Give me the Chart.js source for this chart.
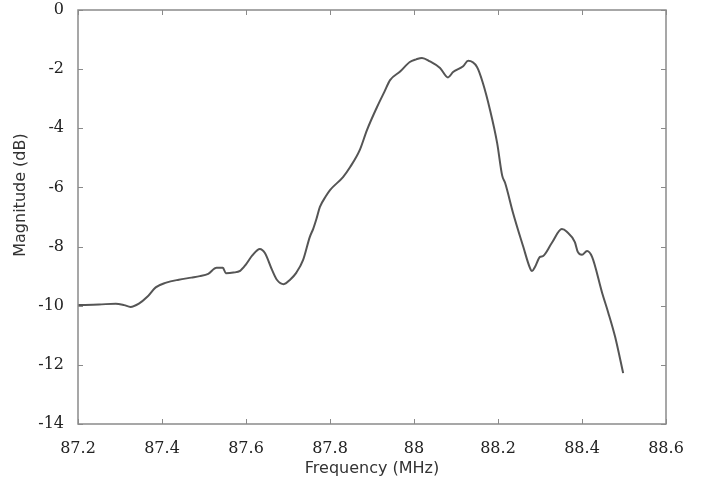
<!DOCTYPE html>
<html>
<head>
<meta charset="utf-8">
<script src="https://cdn.jsdelivr.net/npm/chart.js@4/dist/chart.umd.min.js"></script>
<style>
    html, body { margin: 0; padding: 0; background: #fff; }
    #wrap { width: 713px; height: 487px; }
</style>
</head>
<body>
<div id="wrap"><canvas id="freqChart" width="713" height="487"></canvas></div>
<script>
// frequency response
const freqs = [
    87.20, 87.25, 87.29, 87.31, 87.325, 87.345, 87.365, 87.385, 87.41, 87.44,
    87.47, 87.49, 87.51, 87.53, 87.545, 87.552, 87.57, 87.586, 87.60, 87.615,
    87.633, 87.645, 87.662, 87.674, 87.69, 87.705, 87.72, 87.736, 87.752, 87.76,
    87.768, 87.776, 87.79, 87.80, 87.831, 87.848, 87.871, 87.888, 87.912, 87.93,
    87.943, 87.967, 87.99, 88.005, 88.019, 88.038, 88.062, 88.081, 88.093, 88.117,
    88.129, 88.15, 88.164, 88.181, 88.198, 88.21, 88.217, 88.236, 88.26, 88.276,
    88.281, 88.288, 88.30, 88.307, 88.328, 88.352, 88.364, 88.383, 88.39, 88.40,
    88.412, 88.424, 88.448, 88.462, 88.479, 88.498
];
const magnitudes = [
    -9.98, -9.96, -9.93, -9.98, -10.04, -9.93, -9.70, -9.38, -9.22, -9.12,
    -9.05, -9.00, -8.92, -8.72, -8.72, -8.90, -8.88, -8.82, -8.60, -8.30,
    -8.08, -8.22, -8.79, -9.13, -9.27, -9.12, -8.88, -8.45, -7.67, -7.40,
    -7.05, -6.66, -6.30, -6.09, -5.65, -5.31, -4.73, -4.06, -3.28, -2.75,
    -2.37, -2.08, -1.76, -1.67, -1.62, -1.74, -1.96, -2.28, -2.10, -1.90,
    -1.72, -1.93, -2.47, -3.38, -4.50, -5.60, -5.85, -6.87, -8.00, -8.72,
    -8.83, -8.69, -8.35, -8.32, -7.88, -7.41, -7.50, -7.85, -8.18, -8.28,
    -8.15, -8.35, -9.57, -10.21, -11.06, -12.28
];
const xTicks = [87.2, 87.4, 87.6, 87.8, 88.0, 88.2, 88.4, 88.6];
const yTicks = [0, -2, -4, -6, -8, -10, -12, -14];
const yTitle = 'Magnitude (dB)';

const frameColor = '#8a8a8a';
const tickFont = { family: '"DejaVu Serif", serif', size: 16 };
const titleFont = { family: '"DejaVu Sans", sans-serif', size: 16 };

// box around the plot with short inward tick marks on all four sides,
// plus the y title (sits a bit above the middle in the original)
const framePlugin = {
    id: 'frame',
    afterDraw(chart) {
        const { ctx, chartArea: a, scales } = chart;
        const len = 5;
        ctx.save();
        ctx.strokeStyle = frameColor;
        ctx.lineWidth = 1.5;
        ctx.strokeRect(a.left, a.top, a.right - a.left, a.bottom - a.top);
        ctx.lineWidth = 1;
        ctx.beginPath();
        scales.x.ticks.forEach(t => {
            const px = Math.round(scales.x.getPixelForValue(t.value)) + 0.5;
            ctx.moveTo(px, a.bottom); ctx.lineTo(px, a.bottom - len);
            ctx.moveTo(px, a.top); ctx.lineTo(px, a.top + len);
        });
        scales.y.ticks.forEach(t => {
            const py = Math.round(scales.y.getPixelForValue(t.value)) + 0.5;
            ctx.moveTo(a.left, py); ctx.lineTo(a.left + len, py);
            ctx.moveTo(a.right, py); ctx.lineTo(a.right - len, py);
        });
        ctx.stroke();

        ctx.translate(21, 195);
        ctx.rotate(-Math.PI / 2);
        ctx.font = `${titleFont.size}px ${titleFont.family}`;
        ctx.fillStyle = '#333';
        ctx.textAlign = 'center';
        ctx.textBaseline = 'middle';
        ctx.fillText(yTitle, 0, 0);
        ctx.restore();
    }
};

const ctx = document.getElementById('freqChart').getContext('2d');
new Chart(ctx, {
    type: 'line',
    data: {
        datasets: [{
            label: 'Magnitude',
            data: freqs.map((f, i) => ({ x: f, y: magnitudes[i] })),
            borderColor: '#555555',
            borderWidth: 2,
            pointRadius: 0,
            cubicInterpolationMode: 'monotone',
            fill: false
        }]
    },
    options: {
        responsive: false,
        animation: false,
        layout: { padding: { left: 10, right: 47, top: 10, bottom: 8 } },
        plugins: {
            legend: { display: false },
            tooltip: { enabled: false }
        },
        scales: {
            x: {
                type: 'linear',
                min: 87.2,
                max: 88.6,
                grid: { display: false, drawTicks: false },
                border: { display: false },
                afterBuildTicks: s => { s.ticks = xTicks.map(v => ({ value: v })); },
                afterFit: s => { s.height = 55; s.paddingLeft = 0; s.paddingRight = 0; },
                ticks: {
                    font: tickFont,
                    color: '#222',
                    padding: 15,
                    maxRotation: 0,
                    autoSkip: false,
                    callback: v => String(Number(v.toFixed(1)))
                },
                title: {
                    display: true,
                    text: 'Frequency (MHz)',
                    font: titleFont,
                    color: '#333',
                    padding: { top: 0, bottom: 1 }
                }
            },
            y: {
                type: 'linear',
                min: -14,
                max: 0,
                grid: { display: false, drawTicks: false },
                border: { display: false },
                afterBuildTicks: s => { s.ticks = yTicks.map(v => ({ value: v })); },
                afterFit: s => { s.width = 68; s.paddingTop = 0; s.paddingBottom = 0; },
                ticks: {
                    font: tickFont,
                    color: '#222',
                    padding: 14,
                    autoSkip: false
                },
                title: { display: false }
            }
        }
    },
    plugins: [framePlugin]
});
</script>
</body>
</html>
